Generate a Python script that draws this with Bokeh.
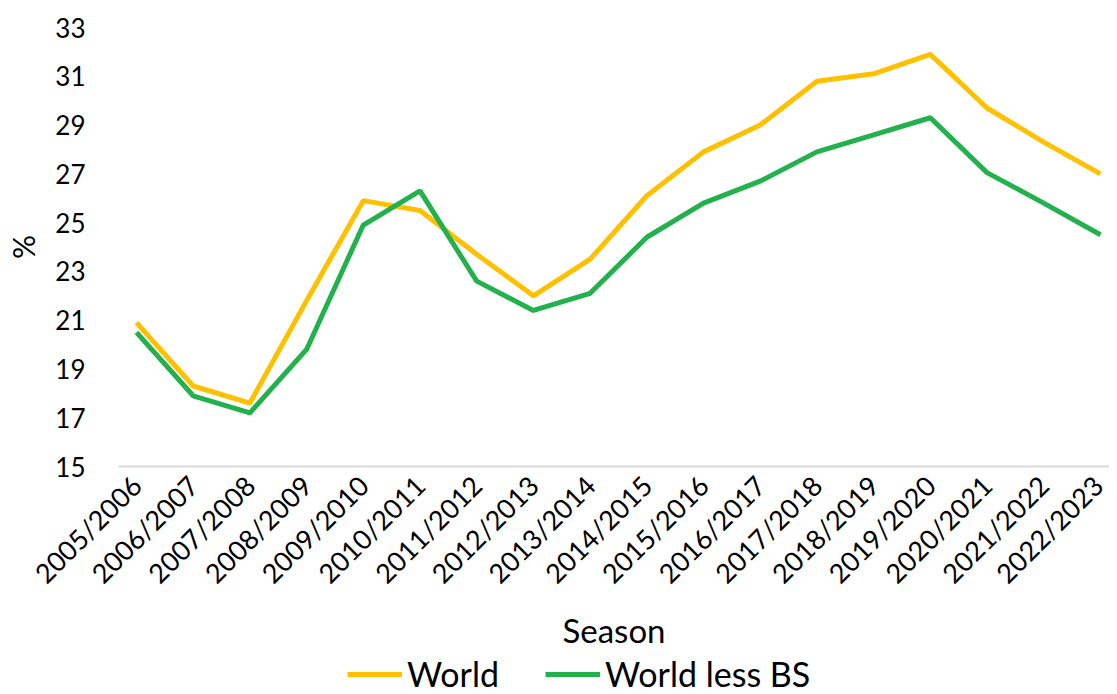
from bokeh.plotting import figure
from bokeh.models import Range1d, FixedTicker, Legend, LegendItem, ColumnDataSource
from bokeh.layouts import column
from bokeh.embed import file_html
from bokeh.resources import INLINE
import math

seasons = ["2005/2006", "2006/2007", "2007/2008", "2008/2009", "2009/2010", "2010/2011",
           "2011/2012", "2012/2013", "2013/2014", "2014/2015", "2015/2016", "2016/2017",
           "2017/2018", "2018/2019", "2019/2020", "2020/2021", "2021/2022", "2022/2023"]
world = [20.9, 18.3, 17.6, 21.8, 25.9, 25.5, 23.7, 22.0, 23.5, 26.1, 27.9, 29.0,
         30.8, 31.1, 31.9, 29.7, 28.3, 27.0]
world_less_bs = [20.5, 17.9, 17.2, 19.8, 24.9, 26.3, 22.6, 21.4, 22.1, 24.4, 25.8, 26.7,
                 27.9, 28.6, 29.3, 27.05, 25.8, 24.5]
y_ticks = [15, 17, 19, 21, 23, 25, 27, 29, 31, 33]

FONT = "Lato"
YELLOW = "#FFC000"
GREEN = "#22B14C"
idx = list(range(len(seasons)))
src = ColumnDataSource(dict(x=idx, world=world, wlb=world_less_bs))

p = figure(frame_width=991, frame_height=439, output_backend="svg", toolbar_location=None,
           x_range=Range1d(-0.317, 17.16), y_range=Range1d(15, 33),
           min_border_left=118, min_border_right=0, min_border_top=27, min_border_bottom=178)
p.outline_line_color = None
p.xgrid.grid_line_color = None
p.ygrid.grid_line_color = None

p.line("x", "world", source=src, line_color=YELLOW, line_width=5)
p.line("x", "wlb", source=src, line_color=GREEN, line_width=5)

p.xaxis.ticker = FixedTicker(ticks=idx)
p.xaxis.major_label_overrides = {i: s for i, s in enumerate(seasons)}
p.xaxis.major_label_orientation = math.pi / 4
p.xaxis.major_tick_line_color = None
p.xaxis.minor_tick_line_color = None
p.xaxis.axis_line_color = "#D9D9D9"
p.xaxis.axis_line_width = 2
p.xaxis.major_label_text_font = FONT
p.xaxis.major_label_text_font_size = "27px"
p.xaxis.major_label_text_color = "#000000"
p.xaxis.major_label_standoff = 8
p.xaxis.axis_label = "Season"
p.xaxis.axis_label_text_font = FONT
p.xaxis.axis_label_text_font_style = "normal"
p.xaxis.axis_label_text_font_size = "33px"
p.xaxis.axis_label_text_color = "#000000"
p.xaxis.axis_label_standoff = 6

p.yaxis.ticker = FixedTicker(ticks=y_ticks)
p.yaxis.major_tick_line_color = None
p.yaxis.minor_tick_line_color = None
p.yaxis.axis_line_color = None
p.yaxis.major_label_text_font = FONT
p.yaxis.major_label_text_font_size = "26px"
p.yaxis.major_label_text_color = "#000000"
p.yaxis.major_label_standoff = 27
p.yaxis.axis_label = "%"
p.yaxis.axis_label_text_font = FONT
p.yaxis.axis_label_text_font_style = "normal"
p.yaxis.axis_label_text_font_size = "30px"
p.yaxis.axis_label_text_color = "#000000"
p.yaxis.axis_label_standoff = 11

# legend-only strip below the chart
lg = figure(frame_width=1109, frame_height=48, output_backend="svg", toolbar_location=None,
            x_range=Range1d(0, 1), y_range=Range1d(100, 101),
            min_border_left=0, min_border_right=0, min_border_top=0, min_border_bottom=0)
lg.axis.visible = False
lg.xgrid.grid_line_color = None
lg.ygrid.grid_line_color = None
lg.outline_line_color = None
l1 = lg.line("x", "world", source=src, line_color=YELLOW, line_width=5)
l2 = lg.line("x", "wlb", source=src, line_color=GREEN, line_width=5)

legend = Legend(items=[LegendItem(label="World", renderers=[l1]),
                       LegendItem(label="World less BS", renderers=[l2])],
                orientation="horizontal", location=(347, 7),
                label_text_font=FONT, label_text_font_size="34px", label_text_color="#000000",
                label_standoff=5, glyph_width=55, glyph_height=20, spacing=46,
                padding=0, margin=0,
                border_line_color=None, background_fill_alpha=0)
lg.add_layout(legend, "center")

layout = column(p, lg, spacing=0)
open("out.html", "w").write(file_html(layout, INLINE))
